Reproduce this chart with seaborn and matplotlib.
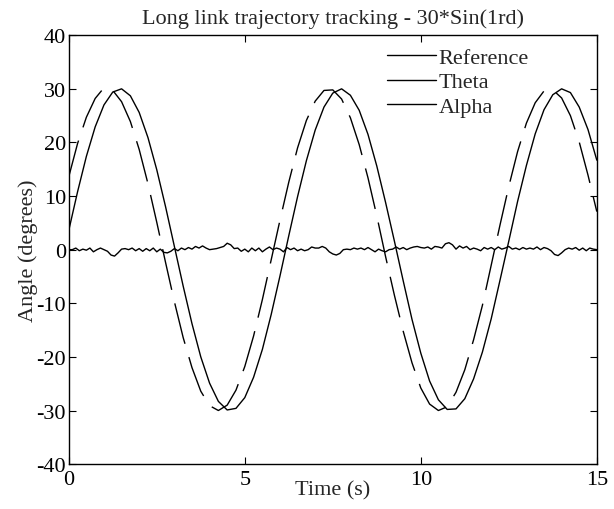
"""
plot.py - Long link trajectory tracking, 30*Sin(1rd): reference, theta and alpha angles.
"""

import numpy as np
import pandas as pd
import matplotlib
matplotlib.use("Agg")
import matplotlib.pyplot as plt
import seaborn as sns
from matplotlib.lines import Line2D

# ---------- Data ----------
time_curve = np.linspace(0, 15, 61)      # 0.25 s sampling
reference_deg = [
    13.6, 19.8, 24.7, 28.2, 30.2, 29.7, 27.6, 23.9, 18.7, 12.3,
    5.1, -2.4, -9.7, -16.4, -22.0, -26.4, -29.1, -30.0, -29.0, -26.2,
    -21.8, -16.1, -9.3, -1.9, 5.5, 12.6, 19.0, 24.1, 27.7, 29.7,
    29.8, 28.1, 24.6, 19.6, 13.4, 6.3, -1.3, -8.5, -15.2, -21.1,
    -25.8, -28.8, -30.0, -29.3, -26.6, -22.4, -16.8, -10.4, -2.9, 4.6,
    11.8, 18.3, 23.6, 27.4, 29.6, 29.8, 28.3, 25.0, 20.1, 13.9,
    7.1,
]
theta_deg = [
    3.6, 10.8, 17.4, 22.9, 27.0, 29.4, 30.0, 28.7, 25.6, 20.9,
    14.9, 8.0, 0.6, -6.8, -13.8, -20.0, -24.9, -28.3, -29.9, -29.6,
    -27.6, -23.8, -18.6, -12.1, -4.9, 2.6, 9.9, 16.6, 22.3, 26.6,
    29.2, 30.0, 28.8, 26.0, 21.5, 15.6, 8.8, 1.6, -5.8, -13.0,
    -19.3, -24.5, -28.0, -29.8, -29.7, -27.8, -24.1, -19.1, -12.9, -5.7,
    1.6, 9.0, 15.7, 21.6, 26.1, 28.9, 30.0, 29.3, 26.6, 22.4,
    16.7,
]

time_alpha = np.linspace(0, 15, 151)     # 0.1 s sampling
alpha_deg = [
    0.0, 0.0, 0.3, -0.2, 0.1, -0.1, 0.3, -0.4, 0.0, 0.3,
    0.0, -0.3, -1.0, -1.2, -0.6, 0.1, 0.2, 0.0, 0.3, -0.2,
    0.2, -0.3, 0.2, -0.2, 0.3, -0.4, 0.1, -0.5, -0.6, -0.3,
    0.2, -0.2, 0.3, 0.0, 0.4, 0.1, 0.6, 0.3, 0.7, 0.3,
    0.0, 0.1, 0.2, 0.4, 0.6, 1.2, 0.9, 0.2, 0.3, -0.3,
    0.1, -0.4, 0.3, -0.2, 0.3, -0.4, 0.1, 0.5, 0.0, 0.3,
    0.1, -0.4, 0.4, 0.0, 0.3, -0.2, 0.1, -0.2, 0.0, 0.5,
    0.3, 0.3, 0.6, 0.3, -0.4, -0.8, -1.0, -0.7, 0.0, 0.1,
    0.0, 0.3, 0.1, 0.3, 0.0, 0.4, 0.0, -0.4, 0.1, -0.2,
    -0.4, 0.0, 0.1, 0.5, 0.1, 0.4, 0.0, 0.3, 0.5, 0.6,
    0.4, 0.3, 0.5, 0.1, 0.6, 0.5, 0.3, 1.1, 1.3, 0.9,
    0.1, 0.7, 0.3, 0.6, 0.0, 0.3, 0.1, -0.2, 0.4, 0.1,
    0.4, 0.0, 0.5, 0.1, 0.3, 0.6, 0.1, 0.3, 0.0, 0.4,
    0.1, 0.3, 0.1, 0.5, 0.0, 0.4, 0.2, -0.2, -0.9, -1.1,
    -0.6, 0.0, 0.3, 0.1, 0.4, -0.1, 0.3, -0.2, 0.3, 0.1,
    0.0,
]

series_names = ["Reference", "Theta", "Alpha"]
y_ticks = [-40, -30, -20, -10, 0, 10, 20, 30, 40]
x_ticks = [0, 5, 10, 15]

curves = pd.DataFrame({"Time": time_curve, "Reference": reference_deg, "Theta": theta_deg})
alpha_df = pd.DataFrame({"Time": time_alpha, "Alpha": alpha_deg})

# ---------- Style ----------
sns.set_theme(style="ticks")
plt.rcParams["font.family"] = ["Liberation Serif", "DejaVu Serif"]
plt.rcParams["axes.unicode_minus"] = False

FS = 16

fig, ax = plt.subplots(figsize=(6.14, 5.10), dpi=100)
fig.subplots_adjust(left=0.112, right=0.972, top=0.929, bottom=0.088)

sns.lineplot(data=curves, x="Time", y="Reference", ax=ax, color="black", lw=1.0,
             linestyle=(3, (30, 10)), errorbar=None)
sns.lineplot(data=curves, x="Time", y="Theta", ax=ax, color="black", lw=1.0, errorbar=None)
sns.lineplot(data=alpha_df, x="Time", y="Alpha", ax=ax, color="black", lw=1.0, errorbar=None)

ax.set_xlim(0, 15)
ax.set_ylim(-40, 40)
ax.set_xticks(x_ticks)
ax.set_yticks(y_ticks)
ax.tick_params(direction="in", top=True, right=True, length=5, width=0.8,
               labelsize=FS, pad=2, colors="black")
ax.tick_params(axis="x", pad=4)
for side in ax.spines.values():
    side.set_linewidth(1.0)
    side.set_color("black")

ax.set_title("Long link trajectory tracking - 30*Sin(1rd)", fontsize=FS, pad=9)
ax.set_xlabel("Time (s)", fontsize=FS, labelpad=-6)
ax.set_ylabel("Angle (degrees)", fontsize=FS, labelpad=-1)

handles = [Line2D([], [], color="black", lw=1.0) for _ in series_names]
ax.legend(handles, series_names, loc="upper left", bbox_to_anchor=(0.602, 0.972),
          frameon=False, fontsize=FS, handlelength=2.2, handletextpad=0.15,
          labelspacing=0.18, borderpad=0.0, borderaxespad=0.0)

fig.savefig("out.png", dpi=100)
plt.close(fig)
